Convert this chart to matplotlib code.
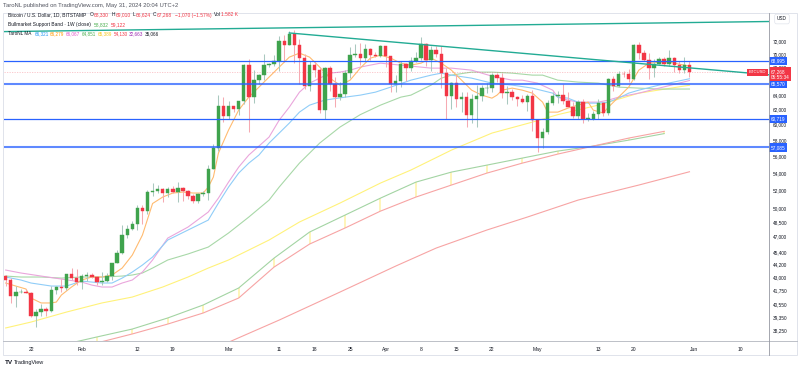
import numpy as np
import pandas as pd
import matplotlib
matplotlib.use("Agg")
import matplotlib.pyplot as plt
import matplotlib.dates as mdates
from matplotlib.transforms import blended_transform_factory
from matplotlib.ticker import NullLocator
from matplotlib.lines import Line2D
from matplotlib.patches import Rectangle

plt.rcParams['font.family'] = ['Liberation Sans', 'DejaVu Sans']

# ---------------- data ----------------
first_day = '2024-01-17'
opens = [43140, 42760, 41270, 41620, 41660, 41570, 39520, 39870, 40080, 39940, 41820, 42120, 42030, 43300, 42950,
         42580, 43080, 43190, 43000, 42580, 42660, 43090, 44340, 45300, 47140, 47770, 48300, 49960, 49710, 51830,
         51930, 52140, 51660, 52120, 51780, 52270, 51850, 51300, 50740, 51570, 51730, 54490, 57050, 62500,
         61180, 62430, 62030, 63130, 68300, 63800, 66100, 66900, 68300, 68500, 68950, 72100, 71450, 73100, 71400,
         69400, 65300, 68400, 67600, 61900, 67900, 65500, 63800, 64100, 67200, 69900, 70000, 69450, 70780, 69900, 69650,
         71300, 69700, 65500, 65980, 68500, 67850, 68900, 69360, 71620, 69150, 70600, 70000, 67100, 63900, 65700,
         63450, 63800, 61300, 63500, 63850, 64950, 64950, 66800, 66400, 64300, 64500, 63800, 63450, 63100, 63850,
         60650, 58300, 59100, 62900, 63900, 64030, 63150, 62300, 61200, 63100, 60800, 60800, 61450, 62900, 61550,
         66250, 65230, 67050, 66950, 66270, 71450, 70150, 69150, 67950, 68530, 69280, 68500, 69400, 68300, 67600, 68330]
highs = [43200, 42930, 42190, 41870, 41880, 41670, 40130, 40530, 40290, 42200, 42200, 42820, 43320, 43850, 43750,
         43270, 43480, 43370, 43110, 43500, 43360, 44370, 45590, 48180, 48150, 48560, 50350, 50370, 52040, 52820,
         52570, 52200, 52350, 52480, 52960, 52370, 52000, 51540, 51690, 51950, 54900, 57550, 63950, 63680,
         63160, 62430, 63230, 68500, 69200, 67600, 67000, 69940, 68650, 69930, 72750, 72900, 73600, 73800, 72400,
         70000, 68900, 68900, 68100, 68100, 68200, 66600, 65900, 67600, 71100, 71500, 71700, 71500, 70900, 70300, 71350,
         71300, 69700, 66900, 69000, 68700, 69600, 70300, 72700, 71750, 71200, 71250, 71200, 67900, 65800, 66900,
         64400, 64500, 64100, 65400, 65400, 65700, 67200, 67200, 67100, 65300, 64800, 63900, 64000, 64200, 64700,
         60800, 59600, 63300, 64500, 64600, 65500, 64400, 63000, 63250, 63450, 61500, 61800, 63400, 63100, 66400,
         66750, 67400, 67400, 67700, 71500, 71900, 70650, 70100, 69200, 69500, 69500, 70600, 69550, 68900, 69500, 69010]
lows = [42200, 40680, 40280, 41500, 41490, 39440, 38550, 39480, 39530, 39820, 41400, 41620, 41800, 42700, 42300,
        41880, 42600, 42900, 42250, 42260, 42570, 42770, 44320, 45240, 46880, 47710, 47700, 48330, 49330, 51330,
        51620, 50620, 51180, 51700, 50660, 50800, 50950, 50530, 50590, 51290, 50930, 54450, 56700, 60400,
        60800, 61680, 61300, 62780, 59000, 62900, 65550, 66100, 68000, 68150, 67450, 68800, 71350, 68600, 65600,
        64800, 64600, 66600, 61600, 60800, 64600, 62300, 63300, 63800, 66400, 69500, 68400, 68900, 69100, 69600, 69600,
        68100, 64500, 64500, 65100, 66000, 67450, 68800, 69100, 68200, 67500, 69600, 65000, 60800, 62100, 62300,
        61700, 59700, 60200, 59700, 63150, 64300, 64500, 65800, 63600, 62800, 63300, 62500, 62850, 61800, 59200,
        56550, 56950, 58800, 62600, 62900, 62700, 62300, 60900, 60700, 60200, 60500, 60650, 60800, 61200, 61300,
        64600, 65100, 66600, 65900, 66100, 69200, 68900, 66300, 66600, 68500, 68200, 68250, 67250, 67100, 67100, 66624]
closes = [42760, 41270, 41620, 41660, 41570, 39520, 39870, 40080, 39940, 41820, 42120, 42030, 43300, 42950, 42580,
          43080, 43190, 43000, 42580, 42660, 43090, 44340, 45300, 47140, 47770, 48300, 49960, 49710, 51830, 51930,
          52140, 51660, 52120, 51780, 52270, 51850, 51300, 50740, 51570, 51730, 54490, 57050, 62500, 61180,
          62430, 62030, 63130, 68300, 63800, 66100, 66900, 68300, 68500, 68950, 72100, 71450, 73100, 71400, 69400,
          65300, 68400, 67600, 61900, 67900, 65500, 63800, 64100, 67200, 69900, 70000, 69450, 70780, 69900, 69650, 71300,
          69700, 65500, 65980, 68500, 67850, 68900, 69360, 71620, 69150, 70600, 70000, 67100, 63900, 65700, 63450,
          63800, 61300, 63500, 63850, 64950, 64950, 66800, 66400, 64300, 64500, 63800, 63450, 63100, 63850, 60650,
          58300, 59100, 62900, 63900, 64030, 63150, 62300, 61200, 63100, 60800, 60820, 61450, 62900, 61550, 66250,
          65230, 67050, 66950, 66270, 71450, 70150, 69150, 67950, 68530, 69280, 68500, 69400, 68300, 67600, 68330, 67268]

orange_dates = ['2024-01-17', '2024-01-19', '2024-01-21', '2024-01-22', '2024-01-24', '2024-01-26', '2024-01-27',
                '2024-01-28', '2024-01-30', '2024-02-01', '2024-02-03', '2024-02-05', '2024-02-07', '2024-02-09',
                '2024-02-11', '2024-02-13', '2024-02-15', '2024-02-17', '2024-02-19', '2024-02-21', '2024-02-23',
                '2024-02-25', '2024-02-26', '2024-02-27', '2024-02-28', '2024-03-01', '2024-03-03', '2024-03-05',
                '2024-03-07', '2024-03-09', '2024-03-11', '2024-03-13', '2024-03-15', '2024-03-17', '2024-03-19',
                '2024-03-21', '2024-03-23', '2024-03-25', '2024-03-27', '2024-03-29', '2024-03-31', '2024-04-02',
                '2024-04-04', '2024-04-06', '2024-04-08', '2024-04-10', '2024-04-12', '2024-04-14', '2024-04-16',
                '2024-04-18', '2024-04-20', '2024-04-22', '2024-04-23', '2024-04-24', '2024-04-26', '2024-04-28',
                '2024-04-30', '2024-05-02', '2024-05-03', '2024-05-05', '2024-05-07', '2024-05-09', '2024-05-11',
                '2024-05-12', '2024-05-14', '2024-05-15', '2024-05-17', '2024-05-19', '2024-05-21', '2024-05-23',
                '2024-05-25', '2024-05-27', '2024-05-29', '2024-05-31']
orange_vals = [42450, 42170, 41900, 41080, 40640, 40640, 40720, 41350, 42080,
               42730, 43010, 43010, 43200, 43860, 45120, 47140, 50500, 51220, 51670, 51780, 51670, 51670, 52350, 53500, 56380,
               59290, 61930, 63710, 65120, 66560, 68030, 69530, 70140, 69530, 68030, 66410, 65400, 66120, 67880, 69380, 69830,
               69380, 68620, 68330, 68620, 69380, 68620, 67580, 66120, 64690, 63990, 63570, 63990, 64690, 64980, 64690, 64270,
               63020, 61660, 61660, 62200, 62610, 63020, 61930, 61530, 62340, 63710, 65120, 67580, 68620, 68770, 68770, 68470, 68180]

blue_dates = ['2024-01-17', '2024-01-20', '2024-01-22', '2024-01-26', '2024-01-29', '2024-02-01', '2024-02-05',
              '2024-02-07', '2024-02-09', '2024-02-11', '2024-02-13', '2024-02-15', '2024-02-18', '2024-02-22',
              '2024-02-26', '2024-02-28', '2024-03-01', '2024-03-03', '2024-03-05', '2024-03-07', '2024-03-09',
              '2024-03-11', '2024-03-13', '2024-03-15', '2024-03-17', '2024-03-20', '2024-03-24', '2024-03-27',
              '2024-03-30', '2024-04-02', '2024-04-06', '2024-04-10', '2024-04-12', '2024-04-14', '2024-04-18',
              '2024-04-22', '2024-04-26', '2024-04-30', '2024-05-04', '2024-05-05', '2024-05-07', '2024-05-09',
              '2024-05-11', '2024-05-13', '2024-05-15', '2024-05-17', '2024-05-19', '2024-05-21', '2024-05-25',
              '2024-05-31']
blue_vals = [43010, 42730, 42450, 42170, 42170,
             42630, 42450, 42450, 42910, 43480, 44150, 44930, 46630, 47660, 48710, 50550,
             52350, 53970, 55160, 56140, 57630, 58900, 60200, 61660, 62610, 63300, 63710, 63990, 64410,
             65120, 66120, 66850, 67140, 66850, 66410, 65690, 65410, 64980,
             64270, 63710, 63570, 63020, 62880, 62880, 63020, 63570, 64270, 64690, 65410, 66321]

pink_dates = ['2024-01-17', '2024-01-20', '2024-01-24', '2024-01-28', '2024-02-01', '2024-02-03', '2024-02-05',
              '2024-02-07', '2024-02-09', '2024-02-11', '2024-02-13', '2024-02-15', '2024-02-18', '2024-02-22',
              '2024-02-26', '2024-02-28', '2024-03-01', '2024-03-03', '2024-03-05', '2024-03-07', '2024-03-09',
              '2024-03-11', '2024-03-13', '2024-03-15', '2024-03-17', '2024-03-19', '2024-03-21', '2024-03-23',
              '2024-03-25', '2024-03-27', '2024-03-29', '2024-03-31', '2024-04-02', '2024-04-04', '2024-04-10',
              '2024-04-14', '2024-04-18', '2024-04-22', '2024-04-26', '2024-04-28', '2024-05-01', '2024-05-04',
              '2024-05-05', '2024-05-07', '2024-05-09', '2024-05-11', '2024-05-13', '2024-05-15', '2024-05-17',
              '2024-05-19', '2024-05-21', '2024-05-25', '2024-05-31']
pink_vals = [43670, 43390, 43100, 42820,
             42540, 42260, 42080, 42080, 42450, 42730, 43480, 44640, 46830, 47970, 49570, 51100,
             52920, 54680, 56140, 57250, 58390, 60590, 62340, 64410, 65690, 66410, 67140, 67290, 67580, 68030, 68330, 68620,
             68470, 68330, 67880, 67880, 67580, 66700, 66120, 66120,
             65690, 64690, 63710, 63300, 63020, 63020, 63020, 63300, 63710, 63990, 64270, 64980, 66067]

green_dates = ['2024-01-17', '2024-01-20', '2024-01-24', '2024-01-28', '2024-02-01', '2024-02-05', '2024-02-09',
               '2024-02-11', '2024-02-13', '2024-02-15', '2024-02-18', '2024-02-22', '2024-02-26', '2024-03-01',
               '2024-03-05', '2024-03-09', '2024-03-11', '2024-03-15', '2024-03-19', '2024-03-23', '2024-03-27',
               '2024-03-31', '2024-04-04', '2024-04-06', '2024-04-10', '2024-04-12', '2024-04-14', '2024-04-18',
               '2024-04-22', '2024-04-26', '2024-04-30', '2024-05-02', '2024-05-05', '2024-05-09', '2024-05-13',
               '2024-05-17', '2024-05-21', '2024-05-25', '2024-05-31']
green_vals = [43100, 43010, 43010, 42910,
              43010, 43010, 43100, 43200, 43390, 43860, 44640, 45230, 45920,
              47350, 49030, 50880, 52350, 55160, 57630, 59680, 61320, 62610,
              63710, 63990, 65410, 66410, 66850, 67290, 67290, 67140, 66850,
              66850, 66120, 65840, 65690, 65120, 64980, 64840, 64851]

yellow_dates = ['2024-01-17', '2024-01-22', '2024-01-29', '2024-02-05', '2024-02-11', '2024-02-17', '2024-02-22',
                '2024-02-26', '2024-03-01', '2024-03-05', '2024-03-09', '2024-03-15', '2024-03-23', '2024-03-31',
                '2024-04-06', '2024-04-14', '2024-04-22', '2024-04-30', '2024-05-05', '2024-05-13', '2024-05-21',
                '2024-05-31']
yellow_vals = [38480, 38980, 39840, 40640, 41170, 42080, 43010, 43860, 44640, 45620, 46630, 48500, 50550, 52810,
               54330, 56750, 58900, 60330, 61320, 62610, 64270, 65389]

bmsb_dates = ['2024-01-21', '2024-01-28', '2024-02-04', '2024-02-11', '2024-02-18', '2024-02-25', '2024-03-03',
              '2024-03-10', '2024-03-17', '2024-03-24', '2024-03-31', '2024-04-07', '2024-04-14', '2024-04-21',
              '2024-04-28', '2024-05-05', '2024-05-12', '2024-05-19', '2024-05-26']
bmsb_ema = [36520, 37070, 37730, 38390, 39330, 40460, 41990, 44830, 47450, 49240, 51100, 52920, 54090, 54920,
            55770, 56630, 57250, 58000, 58832]
bmsb_sma = [35110, 36280, 37240, 37980, 38810, 39760, 41080, 43960, 46220, 47870, 49670, 51220, 52580, 53970,
            55160, 56260, 57250, 58260, 59122]

sma200_dates = ['2024-03-01', '2024-03-11', '2024-03-23', '2024-04-03', '2024-04-11', '2024-04-21', '2024-04-29',
                '2024-05-09', '2024-05-21', '2024-05-31']
sma200_vals = [37300, 39150, 41620, 44050, 45820, 47660, 49030, 50880, 52580, 54130]

trend_top_dates = ['2024-01-16', '2024-06-16']
trend_top_vals = [73510, 75160]
trend_down_dates = ['2024-03-13', '2024-06-16']
trend_down_vals = [73300, 66880]

levels = [68995, 65570, 60719, 57085]

price_ticks = [72000, 70000, 68000, 64000, 62000, 60000, 58000, 56000, 54000, 52000, 50000,
               48500, 47000, 45400, 44200, 43000, 41750, 40550, 39350, 38250]
tick_dates = ['2024-01-22', '2024-02-01', '2024-02-12', '2024-02-19', '2024-03-01', '2024-03-11', '2024-03-18',
              '2024-03-25', '2024-04-01', '2024-04-08', '2024-04-15', '2024-04-22', '2024-05-01', '2024-05-13',
              '2024-05-20', '2024-06-01', '2024-06-10']
tick_labels = ['22', 'Feb', '12', '19', 'Mar', '11', '18', '25', 'Apr', '8', '15', '22', 'May', '13', '20', 'Jun', '10']

ma_legend_vals = ['66,321', '66,279', '66,067', '64,851', '65,389', '54,130', '32,663', '35,066']
ma_legend_cols = ['#2196f3', '#ff9800', '#e056c8', '#4caf50', '#f5c518', '#f23645', '#9c27b0', '#131722']

# ---------------- figure ----------------
W, H = 800, 370
fig = plt.figure(figsize=(8, 3.7), dpi=100)
fig.patch.set_facecolor('white')


def fx(p):
    return p / W


def fy(p):
    return 1 - p / H


PL, PR, PT, PB = 4, 769, 12.5, 341
ax = fig.add_axes([fx(PL), fy(PB), fx(PR) - fx(PL), fy(PT) - fy(PB)])
ax.set_facecolor('white')
for s in ax.spines.values():
    s.set_visible(False)


def dn(lst):
    return mdates.date2num(pd.to_datetime(lst))


dates = pd.date_range(first_day, periods=len(opens), freq='D')
xd = mdates.date2num(dates)
o = np.array(opens, float)
h = np.array(highs, float)
l = np.array(lows, float)
c = np.array(closes, float)
up = c >= o

ax.set_yscale('log')
anchor = mdates.date2num(pd.Timestamp('2024-01-22'))
ax.set_xlim(anchor - 5.33, anchor + 145.7)
ax.set_ylim(37400, 76650)

# moving averages
ax.plot(dn(sma200_dates), sma200_vals, color='#f7a4a4', lw=0.8, zorder=2)
ax.vlines(dn(bmsb_dates), bmsb_sma, bmsb_ema, colors='#fff3a6', lw=1.1, zorder=1.9)
ax.plot(dn(bmsb_dates), bmsb_ema, color='#a3d4a3', lw=0.8, zorder=2)
ax.plot(dn(bmsb_dates), bmsb_sma, color='#f7a4a4', lw=0.8, zorder=2)
ax.plot(dn(yellow_dates), yellow_vals, color='#fff27a', lw=0.8, zorder=2)
ax.plot(dn(green_dates), green_vals, color='#a8d8a8', lw=0.8, zorder=2)
ax.plot(dn(pink_dates), pink_vals, color='#eaa6dc', lw=0.8, zorder=2)
ax.plot(dn(blue_dates), blue_vals, color='#90cdf8', lw=0.8, zorder=2)
ax.plot(dn(orange_dates), orange_vals, color='#ffbb70', lw=0.8, zorder=2)

# last price line
ax.axhline(closes[-1], color='#f23645', alpha=0.3, lw=0.6, ls=(0, (1.5, 1.5)), zorder=2)

# candles
body_lo = np.minimum(o, c)
body_hi = np.maximum(o, c)
bcol = np.where(up, '#3fa34d', '#f23645')
wcol = np.where(up, '#a9c8bf', '#f6aab2')
ax.vlines(xd, l, h, colors=wcol, lw=0.75, zorder=3)
ax.bar(xd, body_hi - body_lo, bottom=body_lo, width=0.68, color=bcol, edgecolor=bcol,
       linewidth=0.3, zorder=4)

# horizontal levels
for lv, lw_, al in zip(levels, [0.9, 1.5, 0.9, 1.5], [1.0, 0.75, 1.0, 0.75]):
    ax.axhline(lv, color='#2962ff', lw=lw_, alpha=al, zorder=5)

# trendlines
ax.plot(dn(trend_top_dates), trend_top_vals, color='#22ab94', lw=1.0, zorder=5)
ax.plot(dn(trend_down_dates), trend_down_vals, color='#22ab94', lw=1.0, zorder=5)

# axes ticks
ax.yaxis.tick_right()
ax.set_yticks(price_ticks)
ax.set_yticklabels([f'{v:,}' for v in price_ticks])
ax.yaxis.set_minor_locator(NullLocator())
ax.tick_params(axis='y', length=0, pad=3.0, labelsize=3.4, labelcolor='#131722')
ax.set_xticks(dn(tick_dates))
ax.set_xticklabels(tick_labels)
ax.xaxis.set_minor_locator(NullLocator())
ax.tick_params(axis='x', length=0, pad=4.0, labelsize=3.6, labelcolor='#131722')

# price-axis boxes
bt = blended_transform_factory(ax.transAxes, ax.transData)
for lv in levels:
    ax.annotate(f'{lv:,}', xy=(1, lv), xycoords=bt, xytext=(1.3, 0), textcoords='offset points',
                ha='left', va='center', fontsize=3.4, color='white', annotation_clip=False, zorder=20,
                bbox=dict(boxstyle='square,pad=0.35', fc='#2962ff', ec='none'))
ax.annotate(f'{closes[-1]:,}\n05:55:34', xy=(1, closes[-1]), xycoords=bt, xytext=(1.3, -1.5),
            textcoords='offset points', ha='left', va='center', fontsize=3.4, color='white',
            linespacing=1.2, annotation_clip=False, zorder=21,
            bbox=dict(boxstyle='square,pad=0.35', fc='#f23645', ec='none'))
ax.annotate('BTCUSD', xy=(1, closes[-1]), xycoords=bt, xytext=(-8.3, 0), textcoords='offset points',
            ha='center', va='center', fontsize=3.0, color='white', annotation_clip=False, zorder=21,
            bbox=dict(boxstyle='square,pad=0.35', fc='#f23645', ec='none'))

fig.text(fx(782), fy(19), 'USD', ha='center', va='center', fontsize=3.4, color='#131722',
         bbox=dict(boxstyle='round,pad=0.5,rounding_size=0.4', fc='white', ec='#e0e3eb', lw=0.5))

# frame
fig.add_artist(Rectangle((fx(3), fy(355)), fx(797) - fx(3), fy(PT) - fy(355), transform=fig.transFigure,
                         fill=False, ec='#e0e3eb', lw=0.7))
fig.add_artist(Line2D([fx(3), fx(797)], [fy(PB), fy(PB)], transform=fig.transFigure, color='#b2b5be', lw=0.6))
fig.add_artist(Line2D([fx(PR), fx(PR)], [fy(PT), fy(355)], transform=fig.transFigure, color='#9598a1', lw=0.6))

# texts
fig.text(fx(3), fy(5), 'TaroNL published on TradingView.com, May 31, 2024 20:04 UTC+2', fontsize=4.2,
         color='#50535e', va='center', ha='left')
fig.text(fx(5), fy(362.5), 'TV', fontsize=4.6, fontweight='bold', color='#131722', va='center', ha='left')
fig.text(fx(13.5), fy(362.5), 'TradingView', fontsize=4.0, color='#131722', va='center', ha='left')

renderer = fig.canvas.get_renderer()
RED = '#f23645'
DARK = '#131722'


def text_row(y, pieces, x0=8, size=3.5):
    x = x0
    for s, colr, gap in pieces:
        t = fig.text(fx(x), fy(y), s, fontsize=size, color=colr, va='center', ha='left')
        bb = t.get_window_extent(renderer=renderer)
        x += bb.width + gap


text_row(15, [('Bitcoin / U.S. Dollar, 1D, BITSTAMP', DARK, 3.5), ('O', DARK, 0.6), ('68,330', RED, 2.2),
              ('H', DARK, 0.6), ('69,010', RED, 2.2), ('L', DARK, 0.6), ('66,624', RED, 2.2),
              ('C', DARK, 0.6), ('67,268', RED, 2.5), ('\u22121,070 (\u22121.57%)', RED, 2.5),
              ('Vol', DARK, 0.6), ('1.582 K', RED, 0)])
text_row(24.5, [('Bullmarket Support Band \u00b7 1W (close)', DARK, 2.5), ('58,832', '#4caf50', 2.5),
                ('59,122', RED, 0)])
text_row(33.5, [('TaroNL MA', DARK, 3.0)] + [(v, col, 1.5) for v, col in zip(ma_legend_vals, ma_legend_cols)],
         size=3.3)

fig.savefig('out.png', dpi=100, facecolor='white')
